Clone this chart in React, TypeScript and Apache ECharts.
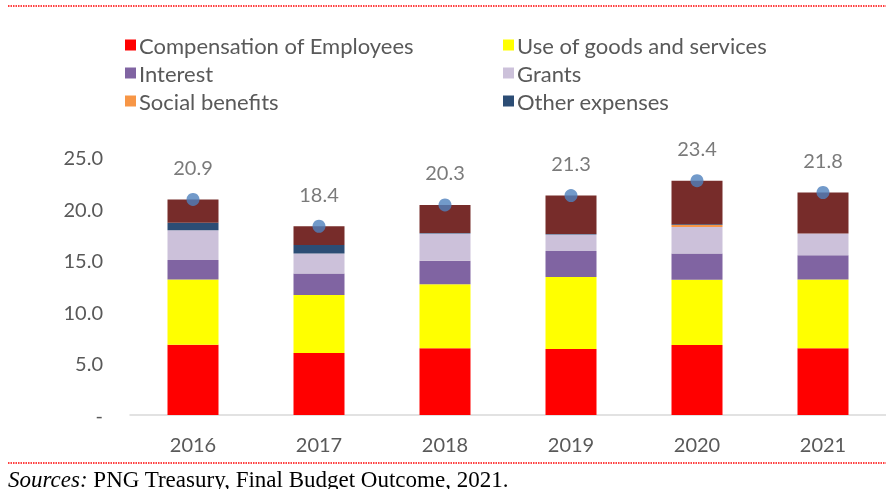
import React, { useEffect, useRef } from 'react';
import * as echarts from 'echarts';

const categories = ['2016', '2017', '2018', '2019', '2020', '2021'];
const compensation = [6.81, 6.0, 6.46, 6.39, 6.78, 6.46];
const goodsServices = [6.33, 5.64, 6.22, 6.97, 6.32, 6.68];
const interest = [1.87, 2.07, 2.26, 2.52, 2.56, 2.35];
const grants = [2.9, 1.94, 2.65, 1.62, 2.55, 2.1];
const socialBenefits = [0, 0, 0, 0, 0.2, 0];
const otherExpenses = [0.71, 0.83, 0.05, 0.05, 0.08, 0];
const capital = [2.27, 1.81, 2.71, 3.71, 4.22, 3.97];
const totalLabels = [20.9, 18.4, 20.3, 21.3, 23.4, 21.8];
const yTicks = [0, 5, 10, 15, 20, 25];

const FONT = 'Lato, "Open Sans", sans-serif';
const TXT = '#595959';

export default function App() {
  const ref = useRef<HTMLDivElement>(null);
  useEffect(() => {
    const chart = echarts.init(ref.current!, null, { renderer: 'svg' });
    const stacks = [compensation, goodsServices, interest, grants, socialBenefits, otherExpenses, capital];
    const totals = categories.map((_, i) => stacks.reduce((s, a) => s + a[i], 0));
    const bar = (name: string, data: number[], color: string) => ({
      name,
      type: 'bar',
      stack: 'total',
      data,
      barWidth: 51,
      itemStyle: { color },
    });
    const legendText = { fontSize: 22, color: TXT, fontFamily: FONT, lineHeight: 22, padding: [0, 0, 0, -2] };
    chart.setOption({
      animation: false,
      textStyle: { fontFamily: FONT },
      legend: [
        {
          orient: 'vertical',
          left: 120,
          top: 29,
          itemWidth: 11,
          itemHeight: 11,
          itemGap: 6,
          icon: 'rect',
          data: ['Compensation of Employees', 'Interest', 'Social benefits'],
          textStyle: legendText,
        },
        {
          orient: 'vertical',
          left: 498,
          top: 29,
          itemWidth: 11,
          itemHeight: 11,
          itemGap: 6,
          icon: 'rect',
          data: ['Use of goods and services', 'Grants', 'Other expenses'],
          textStyle: legendText,
        },
      ],
      grid: { left: 130, right: -14, top: 157, bottom: 74 },
      xAxis: {
        type: 'category',
        data: categories,
        axisLine: { lineStyle: { color: '#D9D9D9', width: 1.5 } },
        axisTick: { show: false },
        axisLabel: { fontSize: 20, color: TXT, margin: 19, fontFamily: FONT },
      },
      yAxis: {
        type: 'value',
        min: yTicks[0],
        max: yTicks[yTicks.length - 1],
        interval: 5,
        axisLine: { show: false },
        axisTick: { show: false },
        splitLine: { show: false },
        axisLabel: {
          fontSize: 20,
          color: TXT,
          margin: 27,
          fontFamily: FONT,
          formatter: (v: number) => (v === 0 ? '-' : v.toFixed(1)),
        },
      },
      series: [
        bar('Compensation of Employees', compensation, '#FF0000'),
        bar('Use of goods and services', goodsServices, '#FFFF00'),
        bar('Interest', interest, '#8064A2'),
        bar('Grants', grants, '#CCC1DA'),
        bar('Social benefits', socialBenefits, '#F79646'),
        bar('Other expenses', otherExpenses, '#2C4D75'),
        bar('Capital', capital, '#772C2A'),
        {
          name: 'Total',
          type: 'scatter',
          data: totals,
          symbolSize: 13,
          itemStyle: { color: '#4F81BD' },
          z: 5,
          label: {
            show: true,
            position: 'top',
            distance: 16,
            fontSize: 20,
            color: TXT,
            fontFamily: FONT,
            formatter: (p: any) => totalLabels[p.dataIndex].toFixed(1),
          },
        },
      ],
      graphic: [
        {
          type: 'line',
          shape: { x1: 8, y1: 6, x2: 886, y2: 6 },
          style: { stroke: '#FF0000', lineWidth: 1.5, lineDash: [1.5, 1] },
        },
        {
          type: 'line',
          shape: { x1: 8, y1: 463, x2: 886, y2: 463 },
          style: { stroke: '#FF0000', lineWidth: 1.5, lineDash: [1.5, 1] },
        },
        {
          type: 'text',
          x: 8,
          y: 468,
          style: {
            text: '{i|Sources:}{n| PNG Treasury, Final Budget Outcome, 2021.}',
            verticalAlign: 'top',
            rich: {
              i: { fontStyle: 'italic', fontSize: 23, fontFamily: '"Liberation Serif", serif', fill: '#000' },
              n: { fontSize: 23, fontFamily: '"Liberation Serif", serif', fill: '#000' },
            },
          },
        },
      ],
    });
    return () => chart.dispose();
  }, []);
  return <div ref={ref} style={{ position: 'fixed', left: 0, top: 0, width: 886, height: 489 }} />;
}
